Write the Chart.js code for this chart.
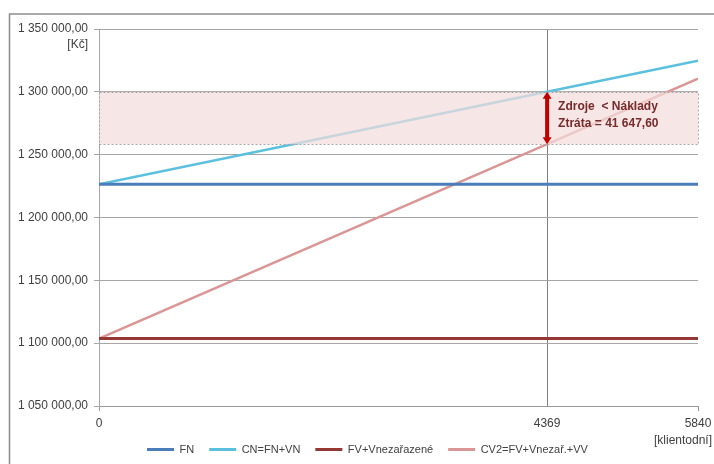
<!DOCTYPE html>
<html>
<head>
<meta charset="utf-8">
<script src="https://cdn.jsdelivr.net/npm/chart.js@4/dist/chart.umd.min.js"></script>
<style>
  body { margin: 0; background: #fff; }
</style>
</head>
<body>
<canvas id="chart" width="714" height="464"></canvas>
<script>
// x values (klientodní)
const xValues = [0, 4369, 5840];
const xTicks = [0, 4369, 5840];
// series values in Kč
const fnValues = [1226500, 1226500, 1226500];
const cnValues = [1226500, 1300000, 1324750];
const fvValues = [1103650, 1103650, 1103650];
const cv2Values = [1103650, 1258352.4, 1310440];
const seriesNames = ["FN", "CN=FN+VN", "FV+Vnezařazené", "CV2=FV+Vnezař.+VV"];
// loss zone between the two lines at x = 4369
const breakX = 4369;
const zoneTop = 1300000;
const zoneBottom = 1258352.4;
const noteLines = ["Zdroje  < Náklady", "Ztráta = 41 647,60"];

const FONT = "'Liberation Sans', Arial, sans-serif";

// 1350000 -> "1 350 000,00"
const fmt = (v) => {
  const parts = v.toFixed(2).split(".");
  return parts[0].replace(/\B(?=(\d{3})+(?!\d))/g, " ") + "," + parts[1];
};

const toPoints = (ys) => xValues.map((x, i) => ({ x: x, y: ys[i] }));

// zone, arrow and texts drawn on top of the lines
const notesPlugin = {
  id: "notes",
  afterLayout(chart) {
    chart.legend.left = 147 - 15;
    chart.legend.top = 450 - 6 - 15;
  },
  afterDatasetsDraw(chart) {
    const { ctx, chartArea, scales } = chart;
    const xs = scales.x, ys = scales.y;
    const top = ys.getPixelForValue(zoneTop);
    const bottom = ys.getPixelForValue(zoneBottom);
    const ax = xs.getPixelForValue(breakX);

    ctx.save();
    // pink zone
    ctx.fillStyle = "rgba(242, 220, 219, 0.72)";
    ctx.fillRect(chartArea.left, top, chartArea.right - chartArea.left, bottom - top);
    ctx.strokeStyle = "#a6a6a6";
    ctx.lineWidth = 1;
    ctx.setLineDash([2, 2]);
    ctx.strokeRect(chartArea.left + 0.5, Math.round(top) + 0.5, chartArea.right - chartArea.left, Math.round(bottom - top));
    ctx.setLineDash([]);

    // double headed arrow
    ctx.strokeStyle = "#c00000";
    ctx.fillStyle = "#c00000";
    ctx.lineWidth = 4;
    ctx.beginPath();
    ctx.moveTo(ax, top + 5);
    ctx.lineTo(ax, bottom - 5);
    ctx.stroke();
    ctx.beginPath();
    ctx.moveTo(ax, top);
    ctx.lineTo(ax - 4.5, top + 7);
    ctx.lineTo(ax + 4.5, top + 7);
    ctx.closePath();
    ctx.fill();
    ctx.beginPath();
    ctx.moveTo(ax, bottom);
    ctx.lineTo(ax - 4.5, bottom - 7);
    ctx.lineTo(ax + 4.5, bottom - 7);
    ctx.closePath();
    ctx.fill();

    // note text
    ctx.fillStyle = "#772b2b";
    ctx.font = "bold 12px " + FONT;
    ctx.textBaseline = "middle";
    ctx.textAlign = "left";
    ctx.fillText(noteLines[0], ax + 11, 107);
    ctx.fillText(noteLines[1], ax + 11, 124);

    // axis units
    ctx.fillStyle = "#404040";
    ctx.font = "12px " + FONT;
    ctx.textAlign = "right";
    ctx.fillText("[Kč]", 88, 45);
    ctx.fillText("[klientodní]", 712, 441);

    // chart outline
    ctx.strokeStyle = "#8c8c8c";
    ctx.lineWidth = 1.5;
    ctx.strokeRect(9.5, 14, 900, 600);
    ctx.restore();
  }
};

const ctx = document.getElementById("chart").getContext("2d");
new Chart(ctx, {
  type: "scatter",
  data: {
    datasets: [
      { label: seriesNames[0], data: toPoints(fnValues), borderColor: "#4a7ebb", borderWidth: 3 },
      { label: seriesNames[1], data: toPoints(cnValues), borderColor: "#5bc0de", borderWidth: 2.5 },
      { label: seriesNames[2], data: toPoints(fvValues), borderColor: "#953735", borderWidth: 3 },
      { label: seriesNames[3], data: toPoints(cv2Values), borderColor: "#da9694", borderWidth: 2.5 }
    ].map((d) => Object.assign(d, { backgroundColor: d.borderColor, showLine: true, pointRadius: 0, pointHoverRadius: 0, tension: 0 }))
  },
  options: {
    responsive: false,
    animation: false,
    layout: { padding: { left: 0, right: 16, top: 29, bottom: 0 } },
    plugins: {
      tooltip: { enabled: false },
      legend: {
        position: "bottom",
        align: "start",
        labels: {
          boxWidth: 27,
          boxHeight: 3,
          padding: 15,
          color: "#404040",
          font: { family: FONT, size: 11 },
          generateLabels: (chart) =>
            Chart.defaults.plugins.legend.labels.generateLabels(chart).map((l, i) =>
              Object.assign(l, { lineWidth: 0, fillStyle: chart.data.datasets[i].borderColor })
            )
        }
      }
    },
    scales: {
      x: {
        type: "linear",
        min: 0,
        max: 5840,
        afterBuildTicks: (scale) => {
          scale.ticks = xTicks.map((v) => ({ value: v }));
        },
        afterFit: (scale) => {
          scale.height = 22;
          scale.paddingLeft = 0;
          scale.paddingRight = 0;
        },
        ticks: {
          autoSkip: false,
          maxRotation: 0,
          padding: 5,
          color: "#404040",
          font: { family: FONT, size: 12 },
          callback: (v) => String(v)
        },
        grid: {
          tickLength: 5,
          color: (c) => (c.tick && c.tick.value === breakX ? "#7f7f7f" : "rgba(0,0,0,0)"),
          tickColor: (c) => (c.tick && c.tick.value === breakX ? "rgba(0,0,0,0)" : "#999999")
        },
        border: { color: "#999999" }
      },
      y: {
        min: 1050000,
        max: 1350000,
        afterFit: (scale) => {
          scale.width = 99;
          scale.paddingTop = 0;
          scale.paddingBottom = 0;
        },
        ticks: {
          stepSize: 50000,
          padding: 6,
          color: "#404040",
          font: { family: FONT, size: 12 },
          callback: (v) => fmt(v)
        },
        grid: { color: "#a6a6a6", tickLength: 5 },
        border: { color: "#a6a6a6" }
      }
    }
  },
  plugins: [notesPlugin]
});
</script>
</body>
</html>
